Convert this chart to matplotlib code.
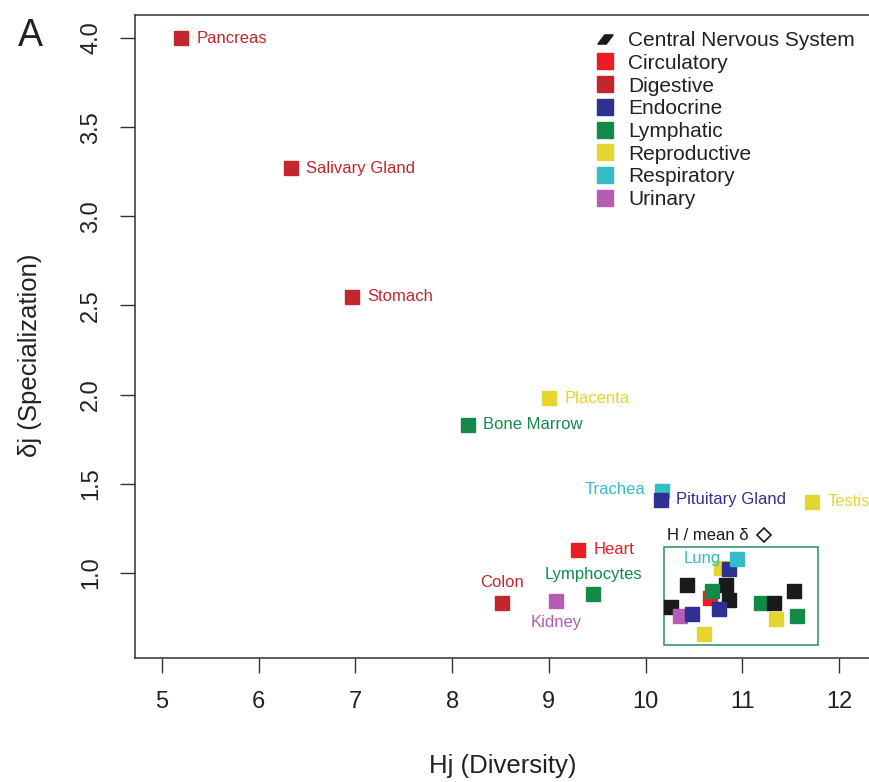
import numpy as np
import matplotlib
matplotlib.use("Agg")
import matplotlib.pyplot as plt
from matplotlib.lines import Line2D
from matplotlib.patches import Rectangle
from matplotlib.path import Path

plt.rcParams['font.family'] = ['Liberation Sans', 'DejaVu Sans']

# systemes et couleurs
systems = ["Central Nervous System", "Circulatory", "Digestive", "Endocrine",
           "Lymphatic", "Reproductive", "Respiratory", "Urinary"]
system_colors = ["#1a1a1a", "#ec1c24", "#c1272d", "#2e3192",
                 "#138a4a", "#e6d430", "#36bcc6", "#b65cb4"]

# tissus (nom vide = point non annote)
tissues = ["Pancreas", "Salivary Gland", "Stomach", "Placenta", "Bone Marrow",
           "Trachea", "Pituitary Gland", "Testis", "Heart", "Colon", "Kidney",
           "Lymphocytes",
           "", "", "", "", "", "", "", "", "", "", "", "", "", "", "", "", "", "Lung"]
Hj = [5.20, 6.33, 6.96, 9.00, 8.16,
      10.17, 10.16, 11.72, 9.30, 8.51, 9.07,
      9.46,
      10.78, 10.86, 10.43, 10.83, 10.67, 10.69, 10.86, 10.76, 10.26, 10.36,
      10.48, 10.60, 11.19, 11.33, 11.53, 11.35, 11.57, 10.94]
dj = [4.00, 3.27, 2.55, 1.98, 1.83,
      1.46, 1.41, 1.40, 1.13, 0.83, 0.84,
      0.88,
      1.03, 1.02, 0.93, 0.93, 0.86, 0.90, 0.85, 0.80, 0.81, 0.76,
      0.77, 0.66, 0.83, 0.83, 0.90, 0.74, 0.76, 1.08]
system = ["Digestive", "Digestive", "Digestive", "Reproductive", "Lymphatic",
          "Respiratory", "Endocrine", "Reproductive", "Circulatory", "Digestive", "Urinary",
          "Lymphatic",
          "Reproductive", "Endocrine", "Central Nervous System", "Central Nervous System",
          "Circulatory", "Lymphatic", "Central Nervous System", "Endocrine",
          "Central Nervous System", "Urinary", "Endocrine", "Reproductive", "Lymphatic",
          "Central Nervous System", "Central Nervous System", "Reproductive", "Lymphatic",
          "Respiratory"]

# moyenne H / delta
H_mean = 11.22
delta_mean = 1.21
# zone du cluster
box_x = [10.19, 11.78]
box_y = [0.596, 1.145]

# placement des etiquettes (decalage en points, alignement)
label_pos = {
    "Trachea": ((-12, 1), "right", "center"),
    "Colon": ((0, 15), "center", "center"),
    "Lymphocytes": ((0, 14), "center", "center"),
    "Kidney": ((0, -15), "center", "center"),
    "Lung": ((-11, 0), "right", "center"),
}

color_of = dict(zip(systems, system_colors))

fig = plt.figure(figsize=(8.7, 7.82), dpi=100)
ax = fig.add_axes([135/870, 124/782, 735/870, 643/782])

for i in range(len(tissues)):
    c = color_of[system[i]]
    ax.plot(Hj[i], dj[i], marker="s", ms=10, color=c, ls="none", zorder=3 + i * 0.01)
    if tissues[i]:
        off, ha, va = label_pos.get(tissues[i], ((11, 0), "left", "center"))
        ax.annotate(tissues[i], (Hj[i], dj[i]), xytext=off, textcoords="offset points",
                    ha=ha, va=va, fontsize=12, color=c, zorder=5, annotation_clip=False)

ax.add_patch(Rectangle((box_x[0], box_y[0]), box_x[1] - box_x[0], box_y[1] - box_y[0],
                       fill=False, ec="#2a8a6c", lw=1.1, zorder=2))

ax.plot(H_mean, delta_mean, marker="D", ms=7.5, mfc="white", mec="#1a1a1a", mew=1.2, ls="none")
ax.annotate("H / mean δ", (H_mean, delta_mean), xytext=(-11, 0), textcoords="offset points",
            ha="right", va="center", fontsize=12, color="#1a1a1a")

ax.set_xlim(4.72, 12.32)
ax.set_ylim(0.523, 4.129)
ax.set_xticks([5, 6, 7, 8, 9, 10, 11, 12])
ax.set_yticks([1.0, 1.5, 2.0, 2.5, 3.0, 3.5, 4.0])
ax.set_yticklabels(["1.0", "1.5", "2.0", "2.5", "3.0", "3.5", "4.0"], rotation=90, va="center")
ax.tick_params(axis="both", length=10.5, width=1, color="#333333", labelsize=17, labelcolor="#222222")
ax.tick_params(axis="x", pad=13)
ax.tick_params(axis="y", pad=13)
ax.spines["right"].set_visible(False)
for s in ["left", "top", "bottom"]:
    ax.spines[s].set_color("#333333")
    ax.spines[s].set_linewidth(1.1)

ax.set_xlabel("Hj (Diversity)", fontsize=18.5, color="#222222")
ax.set_ylabel("δj (Specialization)", fontsize=18.5, color="#222222")
ax.xaxis.set_label_coords(0.50, -0.150)
ax.yaxis.set_label_coords(-0.127, 0.471)

# legende
para = Path([(-1.0, -0.6), (0.1, -0.6), (1.0, 0.6), (-0.1, 0.6), (-1.0, -0.6)])
handles = []
for s, c in zip(systems, system_colors):
    mk = para if s == "Central Nervous System" else "s"
    handles.append(Line2D([], [], marker=mk, ms=11, color=c, ls="none"))
ax.legend(handles, systems, loc="upper left", bbox_to_anchor=(597/870, 1 - 31/782),
          bbox_transform=fig.transFigure, frameon=False, fontsize=15,
          handlelength=0.8, handletextpad=0.7, labelspacing=0.18, borderpad=0,
          borderaxespad=0, labelcolor="#222222")

fig.text(30/870, 1 - 36/782, "A", fontsize=27, ha="center", va="center", color="#222222")

fig.savefig("out.png", dpi=100)
